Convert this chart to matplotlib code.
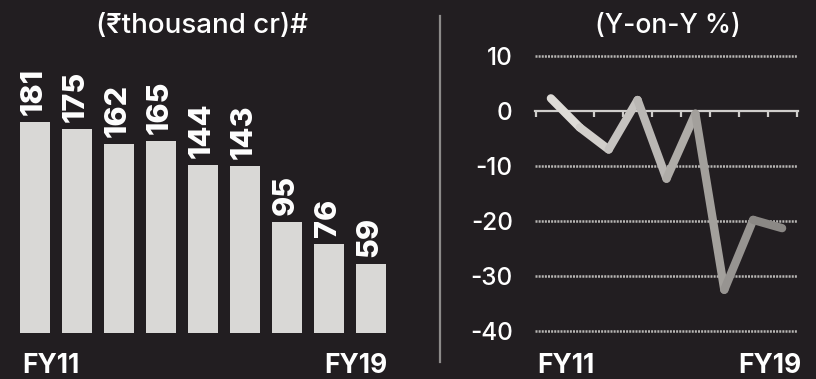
import numpy as np
import matplotlib
matplotlib.use('Agg')
import matplotlib.pyplot as plt
from matplotlib.collections import LineCollection
from matplotlib.lines import Line2D
from matplotlib.colors import to_rgb

# --- data ---
years = ['FY11', 'FY12', 'FY13', 'FY14', 'FY15', 'FY16', 'FY17', 'FY18', 'FY19']
outstanding = [181, 175, 162, 165, 144, 143, 95, 76, 59]          # ₹ thousand cr
yoy_change = [2.3, -3.0, -7.0, 2.0, -12.3, -0.5, -32.5, -19.8, -21.3]  # %
yoy_ticks = [10, 0, -10, -20, -30, -40]

# --- style ---
bg_color = '#221e21'
bar_color = '#d9d8d6'
grid_color = '#b8b6b4'
line_start = '#dedbd7'
line_end = '#8b8885'
W, H = 816, 379

plt.rcParams['font.family'] = ['Inter', 'DejaVu Sans']

fig = plt.figure(figsize=(W / 100, H / 100), dpi=100, facecolor=bg_color)

# --- left panel: outstanding amount bars ---
ax1 = fig.add_axes([14 / W, 46 / H, 378 / W, 291.5 / H])
ax1.set_facecolor(bg_color)
x = np.arange(len(years))
ax1.bar(x, outstanding, width=0.71, color=bar_color)
for xi, v in zip(x, outstanding):
    ax1.annotate(str(v), (xi, v), xytext=(-1, 5), textcoords='offset points',
                 rotation=90, ha='center', va='bottom',
                 fontsize=22, fontweight=800, color='white')
ax1.set_xlim(-0.5, len(years) - 0.5)
ax1.set_ylim(0, 250)
ax1.axis('off')

fig.text(202 / W, (H - 33) / H, '(₹thousand cr)#', ha='center', va='baseline',
         fontsize=20, fontweight='medium', color='white')
fig.text(22 / W, 6 / H, years[0], ha='left', va='baseline',
         fontsize=19, fontweight='bold', color='white')
fig.text(387 / W, 6 / H, years[-1], ha='right', va='baseline',
         fontsize=19, fontweight='bold', color='white')

# --- divider ---
fig.add_artist(Line2D([440 / W, 440 / W], [(H - 16) / H, (H - 362) / H],
                      color='#8c8a89', lw=1.6))

# --- right panel: year-on-year change ---
ax2 = fig.add_axes([535 / W, 37 / H, 263 / W, 297 / H])
ax2.set_facecolor(bg_color)
ax2.set_xlim(-0.55, len(years) - 0.45)
ax2.set_ylim(-42, 12)

for v in yoy_ticks:
    if v != 0:
        ax2.axhline(v, color=grid_color, lw=1.8, ls=(0, (0.8, 0.45)), zorder=1)

for side in ['top', 'right', 'left']:
    ax2.spines[side].set_visible(False)
ax2.spines['bottom'].set_position(('data', 0))
ax2.spines['bottom'].set_color('#d0cecc')
ax2.spines['bottom'].set_linewidth(1.6)
ax2.set_xticks(np.arange(len(years) + 1) - 0.5)
ax2.tick_params(axis='x', direction='out', length=4, width=1.6,
                color='#d0cecc', labelbottom=False)
ax2.set_yticks(yoy_ticks)
ax2.set_yticklabels([str(t) for t in yoy_ticks], fontweight='medium')
ax2.tick_params(axis='y', length=0, pad=16, labelsize=17.5, labelcolor='white')

# line with a light-to-dark gradient, one colour per segment
pts = np.column_stack([x, yoy_change])
segs = np.stack([pts[:-1], pts[1:]], axis=1)
c0, c1 = np.array(to_rgb(line_start)), np.array(to_rgb(line_end))
fr = np.linspace(0, 1, len(segs))
seg_colors = [tuple(c0 + (c1 - c0) * f) for f in fr]
lc = LineCollection(segs, colors=seg_colors, linewidths=6,
                    capstyle='round', joinstyle='round', zorder=3)
ax2.add_collection(lc)

fig.text(668 / W, (H - 33) / H, '(Y-on-Y %)', ha='center', va='baseline',
         fontsize=19, fontweight='medium', color='white')
fig.text(537 / W, 6 / H, years[0], ha='left', va='baseline',
         fontsize=19, fontweight='bold', color='white')
fig.text(802 / W, 6 / H, years[-1], ha='right', va='baseline',
         fontsize=19, fontweight='bold', color='white')

fig.savefig('out.png', dpi=100, facecolor=bg_color)
